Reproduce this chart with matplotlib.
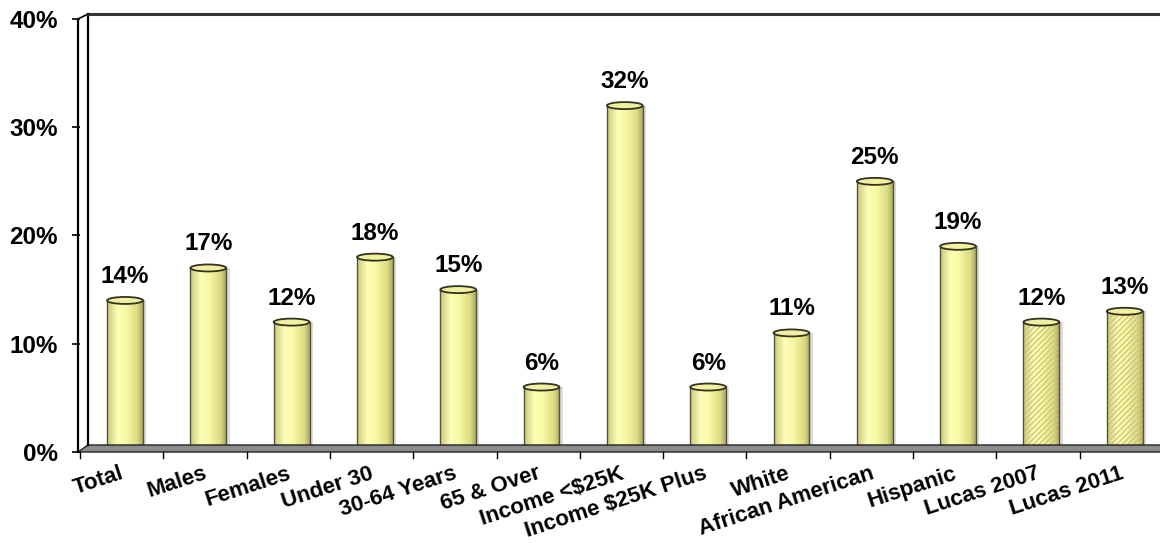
import matplotlib
matplotlib.use("Agg")
import matplotlib.pyplot as plt
import numpy as np
from matplotlib.patches import Ellipse, Polygon
from matplotlib.lines import Line2D
from matplotlib.colors import LinearSegmentedColormap
import matplotlib.transforms as mtransforms

categories = ["Total", "Males", "Females", "Under 30", "30-64 Years", "65 & Over",
              "Income <\\$25K", "Income \\$25K Plus", "White", "African American",
              "Hispanic", "Lucas 2007", "Lucas 2011"]
values = [14, 17, 12, 18, 15, 6, 32, 6, 11, 25, 19, 12, 13]
hatched = [False] * 11 + [True, True]
yticks = [0, 10, 20, 30, 40]

plt.rcParams['font.family'] = ['Liberation Sans', 'DejaVu Sans']
plt.rcParams['hatch.color'] = '#CFC27A'
plt.rcParams['hatch.linewidth'] = 0.9

W, H = 1160, 543
fig = plt.figure(figsize=(W / 100, H / 100), dpi=100)

def fx(x):
    return x / W

def fy(y):
    return 1 - y / H

x0, x1 = 80, 1163
ytop, ybot = 19, 452
ax = fig.add_axes([fx(x0), fy(ybot), (x1 - x0) / W, (ybot - ytop) / H])
ax.set_xlim(-0.5, len(values) - 0.5)
ax.set_ylim(0, 40)
for s in ax.spines.values():
    s.set_visible(False)
ax.patch.set_alpha(0)

# back wall / frame
fig.add_artist(Line2D([fx(88), fx(88)], [fy(445), fy(14)], color='black', lw=1.6))
fig.add_artist(Line2D([fx(88), fx(1165)], [fy(14), fy(14)], color='#333333', lw=2.2))
fig.add_artist(Line2D([fx(78), fx(78)], [fy(452), fy(19)], color='black', lw=1.6))
fig.add_artist(Line2D([fx(78), fx(88)], [fy(19), fy(14)], color='black', lw=1.2))
# floor
floor = Polygon([[fx(78), fy(452)], [fx(88), fy(445)], [fx(1165), fy(445)], [fx(1165), fy(452)]],
                closed=True, transform=fig.transFigure, facecolor='#8C8C8C',
                edgecolor='#222222', lw=1.0, zorder=1)
fig.add_artist(floor)

# y ticks
ax.set_yticks(yticks)
ax.set_yticklabels([f"{v}%" for v in yticks], fontsize=17.5, fontweight='bold')
ax.tick_params(axis='y', length=6, width=1.2, pad=10, left=True)
ax.tick_params(axis='x', length=0)
ax.set_xticks([])
# bottom ticks at slot boundaries
trans_tick = mtransforms.blended_transform_factory(ax.transData, fig.transFigure)
for i in range(len(values) + 1):
    xb = -0.5 + i
    fig.add_artist(Line2D([xb, xb], [fy(452), fy(458)], transform=trans_tick,
                          color='black', lw=1.0))

cmap = LinearSegmentedColormap.from_list(
    'cyl', [(0.0, '#C9C77A'), (0.3, '#FFFFB8'), (0.55, '#F7F7A2'), (0.85, '#DCDA82'), (1.0, '#A8A666')])
grad = np.linspace(0, 1, 256).reshape(1, -1)

bw = 0.43
offset = 0.04
xs = np.arange(len(values)) + offset
px_per_unit = (ybot - ytop) / 40.0
eh = 7 / px_per_unit

bars = ax.bar(xs, values, width=bw, color='none', edgecolor='none', zorder=3)
for b, v, x, h in zip(bars, values, xs, hatched):
    ax.bar(x + 0.04, v, width=bw, color='#BBBBBB', alpha=0.5, zorder=2, edgecolor='none')
    im = ax.imshow(grad, cmap=cmap, aspect='auto', extent=[x - bw / 2, x + bw / 2, 0, v],
                   zorder=3, interpolation='bilinear')
    im.set_clip_path(b)
    if h:
        ax.bar(x, v, width=bw, color='none', hatch='//////', edgecolor='#CFC27A', lw=0, zorder=3.5)
    ax.plot([x - bw / 2, x - bw / 2], [0, v], color='#555533', lw=1.0, zorder=4)
    ax.plot([x + bw / 2, x + bw / 2], [0, v], color='#555533', lw=1.0, zorder=4)
    bot = Ellipse((x, 0), bw, eh, facecolor='none', edgecolor='#555533', lw=0.8, zorder=2.5)
    ax.add_patch(bot)
    top = Ellipse((x, v), bw, eh, facecolor='#F2F0A0', edgecolor='#333322', lw=1.3, zorder=5)
    ax.add_patch(top)
    ax.annotate(f"{v}%", (x, v), xytext=(0, 9), textcoords='offset points',
                ha='center', va='bottom', fontsize=17.5, fontweight='bold', zorder=6)

ax.set_ylim(0, 40)

# category labels
lab_trans = mtransforms.blended_transform_factory(ax.transData, fig.transFigure)
for i, c in enumerate(categories):
    ax.text(i - 0.02, fy(463), c, transform=lab_trans, rotation=18, rotation_mode='anchor',
            ha='right', va='top', fontsize=16, fontweight='bold')

fig.savefig("out.png", dpi=100)
